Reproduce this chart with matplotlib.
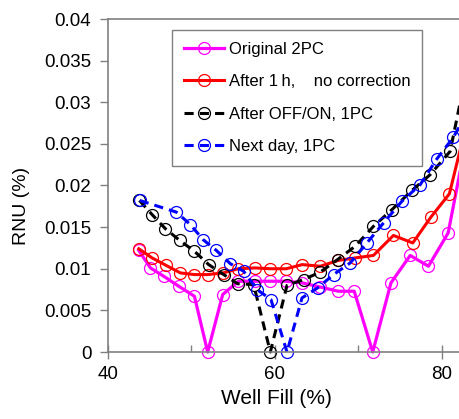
import matplotlib
matplotlib.use('Agg')
import matplotlib.pyplot as plt
from matplotlib.ticker import MultipleLocator

plt.rcParams['font.family'] = ['Liberation Sans', 'DejaVu Sans']

# well fill (%) and RNU (%) for each run
fill_orig = [43.69, 45.09, 46.68, 48.48, 50.36, 51.95, 53.75, 55.63, 57.66, 59.46, 61.38,
             63.29, 65.45, 67.60, 69.52, 71.74, 73.92, 76.23, 78.42, 80.78, 83.05]
rnu_orig = [0.0122, 0.0101, 0.0091, 0.0079, 0.0067, 0.0, 0.0069, 0.0085, 0.0085, 0.0085, 0.0085,
            0.0083, 0.0078, 0.0073, 0.0073, 0.0, 0.0083, 0.0116, 0.0103, 0.0143, 0.0260]

fill_1h = [43.69, 45.29, 46.97, 48.68, 50.36, 51.95, 53.80, 55.63, 57.66, 59.46, 61.38,
           63.29, 65.45, 67.60, 69.64, 71.82, 74.22, 76.54, 78.71, 80.93, 83.08]
rnu_1h = [0.0124, 0.0113, 0.0104, 0.0095, 0.0093, 0.0093, 0.0095, 0.0100, 0.0101, 0.0100, 0.0100,
          0.0105, 0.0103, 0.0110, 0.0113, 0.0116, 0.0140, 0.0131, 0.0162, 0.0190, 0.0278]

fill_offon = [43.77, 45.29, 46.89, 48.60, 50.36, 52.07, 53.87, 55.54, 57.46, 59.46, 61.46,
              63.45, 65.45, 67.52, 69.64, 71.83, 74.04, 76.43, 78.62, 81.02, 83.05]
rnu_offon = [0.0182, 0.0165, 0.0148, 0.0134, 0.0121, 0.0105, 0.0093, 0.0082, 0.0081, 0.0, 0.0080,
             0.0087, 0.0096, 0.0111, 0.0127, 0.0151, 0.0171, 0.0194, 0.0213, 0.0241, 0.0340]

fill_next = [43.81, 48.20, 49.88, 51.40, 52.99, 54.67, 56.26, 57.87, 59.54, 61.46,
             63.26, 65.13, 67.04, 69.04, 71.04, 73.03, 75.23, 77.43, 79.43, 81.41, 83.53]
rnu_next = [0.0182, 0.0168, 0.0153, 0.0135, 0.0122, 0.0106, 0.0097, 0.0075, 0.0063, 0.0,
            0.0065, 0.0077, 0.0093, 0.0107, 0.0131, 0.0155, 0.0181, 0.0201, 0.0232, 0.0258, 0.0295]

labels = ['Original 2PC', 'After 1\u2009h,    no correction', 'After OFF/ON, 1PC', 'Next day, 1PC']

fig = plt.figure(figsize=(4.6, 4.19), dpi=100)
ax = fig.add_axes([108 / 460, 67 / 419, 367 / 460, 333 / 419])

grey = '#808080'
mk = dict(marker='o', markersize=8.6, markerfacecolor='none', markeredgewidth=0.9, clip_on=False)

ax.plot(fill_orig, rnu_orig, color='#ff00ff', lw=2.3, label=labels[0], **mk)
ax.plot(fill_1h, rnu_1h, color='#ff0000', lw=2.2, label=labels[1], **mk)
ax.plot(fill_offon, rnu_offon, color='black', lw=2.2, dashes=(3, 2), label=labels[2], **mk)
ax.plot(fill_next, rnu_next, color='#0000ff', lw=2.2, dashes=(3, 2), label=labels[3], **mk)

ax.set_xlim(40, 84)
ax.set_ylim(0, 0.04)
ax.xaxis.set_major_locator(MultipleLocator(20))
ax.xaxis.set_minor_locator(MultipleLocator(10))
ax.set_yticks([i * 0.005 for i in range(9)])
ax.set_yticklabels(['0', '0.005', '0.01', '0.015', '0.02', '0.025', '0.03', '0.035', '0.04'])

for s in ax.spines.values():
    s.set_color(grey)
    s.set_linewidth(1.2)

ax.tick_params(axis='y', which='major', direction='out', length=6, width=1, color=grey,
               labelsize=13.5, pad=6)
ax.tick_params(axis='x', which='major', direction='inout', length=10, width=1, color=grey,
               labelsize=13.5, pad=5)
ax.tick_params(axis='x', which='minor', direction='in', length=5, width=1, color=grey)

fig.text(276.7 / 460, 1 - 398 / 419, 'Well Fill (%)', ha='center', va='center', fontsize=15)
fig.text(21.7 / 460, 1 - 206 / 419, 'RNU (%)', ha='center', va='center', rotation=90, fontsize=14)

leg = fig.legend(loc='upper left', bbox_to_anchor=(172 / 460, 1 - 30 / 419), borderaxespad=0,
                 fontsize=12, fancybox=False, framealpha=1, edgecolor=grey,
                 handlelength=2.4, handletextpad=0.3, labelspacing=1.05, borderpad=0.7)
leg.get_frame().set_linewidth(1.0)

fig.savefig('out.png', dpi=100)
